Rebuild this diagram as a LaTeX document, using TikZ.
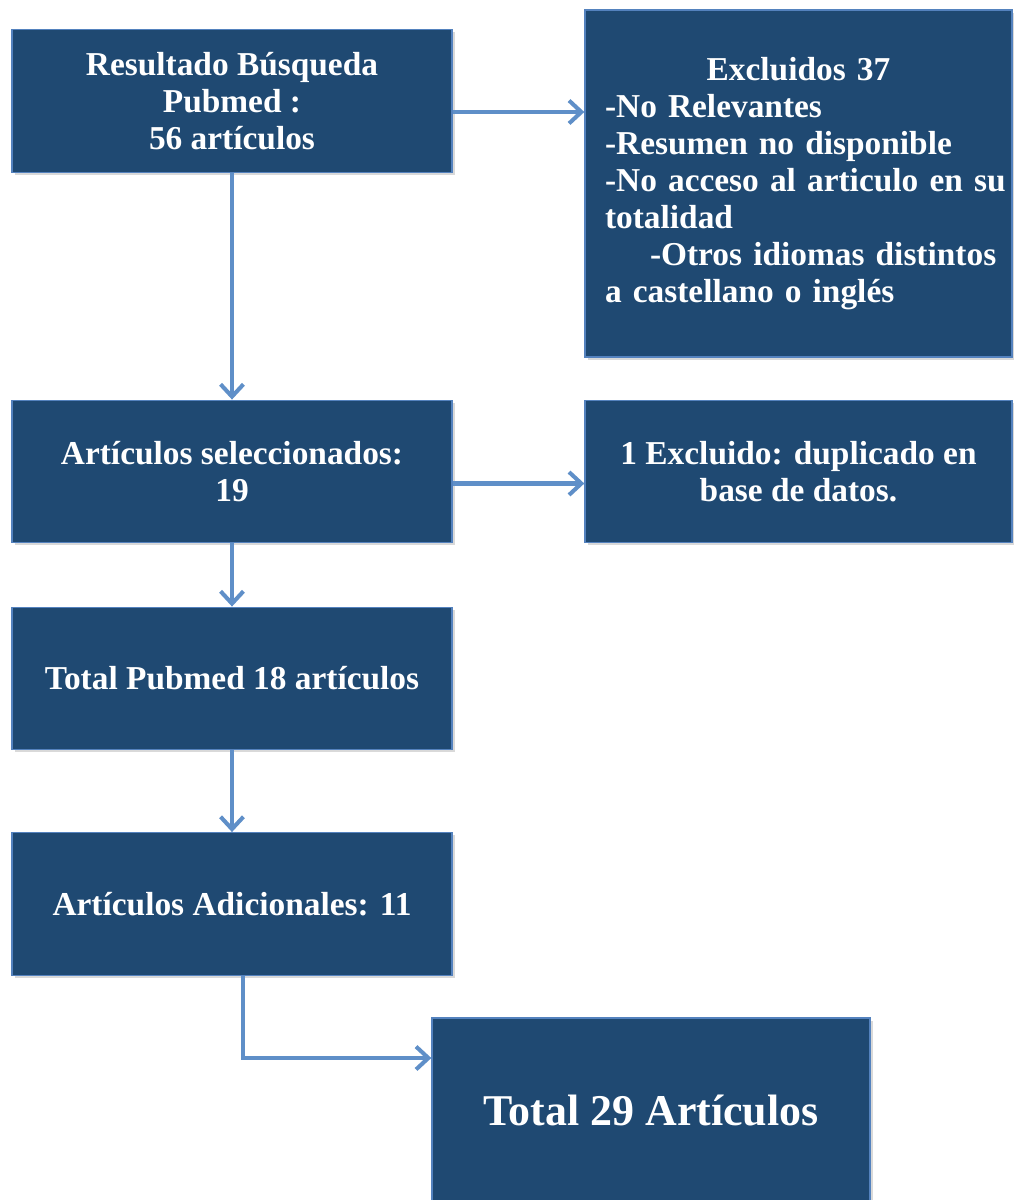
\documentclass[tikz,border=0pt]{standalone}
\usepackage{fontspec}
\setmainfont{Liberation Serif}
\usetikzlibrary{arrows.meta,shadows}
\definecolor{cajaazul}{RGB}{31,73,114}
\definecolor{bordeazul}{RGB}{84,130,190}
\definecolor{flechaazul}{RGB}{95,143,200}
\begin{document}
\begin{tikzpicture}[x=0.02cm,y=-0.02cm,
	caja/.style={draw=bordeazul, line width=0.8pt, fill=cajaazul, text=white,
		font=\bfseries\fontsize{19}{21}\selectfont, align=center, inner sep=0pt,
		minimum width=8.8cm, minimum height=2.85cm,
		drop shadow={opacity=0.3, shadow xshift=1.5pt, shadow yshift=-1.5pt}},
	flecha/.style={draw=flechaazul, line width=2.3pt,
		-{Straight Barb[length=7pt, width=13pt, line width=2.3pt]}}]
	\useasboundingbox (0,0) rectangle (1014,1200);
	
	% Kästen links
	\node[caja] (busqueda) at (232,101) {Resultado Búsqueda\\Pubmed :\\56 artículos};
	\node[caja] (seleccion) at (232,471.5) {Artículos seleccionados:\\19};
	\node[caja] (pubmed) at (232,678.5) {Total Pubmed 18 artículos};
	\node[caja] (adicional) at (232,904) {Artículos Adicionales: 11};
	
	% Kästen rechts
	\node[caja, minimum width=8.54cm, minimum height=6.94cm, text width=7.74cm, align=left]
		(excluidos) at (798.5,183.5)
		{\hfill Excluidos 37\hfill\null\\
		\mbox{-No Relevantes}\\
		\mbox{-Resumen no disponible}\\
		\mbox{-No acceso al articulo en su}\\
		totalidad\\
		\mbox{\hspace*{0.9cm}-Otros idiomas distintos}\\
		\mbox{a castellano o inglés}};
	\node[caja, minimum width=8.54cm] (duplicado) at (798.5,471.5)
		{1 Excluido: duplicado en\\base de datos.};
	
	% Ergebnis
	\node[caja, minimum width=8.76cm, minimum height=3.68cm,
		font=\bfseries\fontsize{25}{28}\selectfont] (total) at (651,1110) {Total 29 Artículos};
	
	% Pfeile
	\draw[flecha] ([yshift=-0.22cm]busqueda.east) -- ([yshift=-0.22cm]busqueda.east -| excluidos.west);
	\draw[flecha] (busqueda) -- (seleccion);
	\draw[flecha] ([yshift=-0.24cm]seleccion.east) -- ([yshift=-0.24cm]duplicado.west);
	\draw[flecha] (seleccion) -- (pubmed);
	\draw[flecha] (pubmed) -- (adicional);
	\draw[flecha] ([xshift=0.22cm]adicional.south) |- ([yshift=1.04cm]total.west);
	
\end{tikzpicture}
\end{document}
